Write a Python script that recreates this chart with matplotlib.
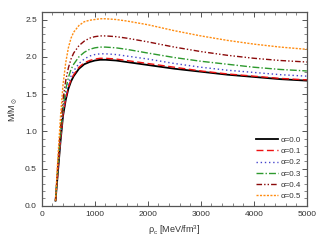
import matplotlib
matplotlib.use("Agg")
import matplotlib.pyplot as plt
from matplotlib.ticker import MultipleLocator, FormatStrFormatter

plt.rcParams["font.family"] = ["Liberation Sans", "DejaVu Sans"]
plt.rcParams["mathtext.default"] = "regular"

rho = [258, 300, 350, 400, 450, 500, 550, 600, 700, 800, 900, 1000, 1100, 1200,
       1400, 1600, 2000, 2500, 3000, 3500, 4000, 4500, 5000]

m_a00 = [0.07, 0.43, 0.85, 1.21, 1.42, 1.57, 1.67, 1.74, 1.84, 1.90, 1.93, 1.95, 1.96, 1.96,
         1.95, 1.93, 1.89, 1.84, 1.80, 1.76, 1.73, 1.70, 1.68]
m_a01 = [0.07, 0.44, 0.87, 1.23, 1.44, 1.59, 1.69, 1.76, 1.86, 1.92, 1.95, 1.97, 1.98, 1.98,
         1.97, 1.95, 1.91, 1.86, 1.81, 1.77, 1.74, 1.71, 1.69]
m_a02 = [0.07, 0.46, 0.90, 1.27, 1.49, 1.64, 1.74, 1.81, 1.91, 1.97, 2.01, 2.03, 2.04, 2.04,
         2.03, 2.01, 1.97, 1.91, 1.86, 1.82, 1.79, 1.76, 1.74]
m_a03 = [0.07, 0.49, 0.95, 1.33, 1.56, 1.72, 1.83, 1.90, 2.00, 2.06, 2.10, 2.12, 2.13, 2.13,
         2.12, 2.10, 2.05, 1.99, 1.94, 1.90, 1.86, 1.83, 1.81]
m_a04 = [0.07, 0.54, 1.03, 1.43, 1.68, 1.85, 1.97, 2.05, 2.15, 2.21, 2.25, 2.27, 2.28, 2.28,
         2.27, 2.25, 2.20, 2.13, 2.07, 2.02, 1.98, 1.95, 1.93]
m_a05 = [0.07, 0.62, 1.18, 1.63, 1.92, 2.12, 2.25, 2.33, 2.42, 2.47, 2.49, 2.50, 2.51, 2.51,
         2.50, 2.48, 2.43, 2.35, 2.28, 2.22, 2.17, 2.13, 2.10]

labels = ["α=0.0", "α=0.1", "α=0.2", "α=0.3", "α=0.4", "α=0.5"]
series = [m_a00, m_a01, m_a02, m_a03, m_a04, m_a05]
colors = ["black", "#ee1111", "#4444cc", "#2e9a2e", "#8b0a0a", "#ff8c10"]
styles = ["-", (0, (5, 2.5)), (0, (1, 2)), (0, (5, 1.5, 1, 1.5)),
          (0, (4, 1.5, 1, 1.5, 1, 1.5)), (0, (1.5, 1))]
widths = [1.3, 1.0, 1.0, 1.0, 1.0, 1.0]

fig = plt.figure(figsize=(3.22, 2.46), dpi=100)
ax = fig.add_axes([0.130, 0.163, 0.823, 0.788])

for y, lab, c, ls, lw in zip(series, labels, colors, styles, widths):
    ax.plot(rho, y, color=c, linestyle=ls, linewidth=lw, label=lab)

ax.set_xlim(0, 5000)
ax.set_ylim(0, 2.6)
ax.xaxis.set_major_locator(MultipleLocator(1000))
ax.xaxis.set_minor_locator(MultipleLocator(200))
ax.yaxis.set_major_locator(MultipleLocator(0.5))
ax.yaxis.set_minor_locator(MultipleLocator(0.1))
ax.yaxis.set_major_formatter(FormatStrFormatter("%.1f"))

for s in ax.spines.values():
    s.set_color("#555555")
    s.set_linewidth(0.9)
ax.tick_params(which="both", direction="in", top=True, right=True,
               colors="#555555", labelcolor="#333333", labelsize=6)
ax.tick_params(which="major", length=3.5, width=0.7)
ax.tick_params(which="minor", length=2, width=0.5)

ax.set_xlabel(r"ρ$_c$ [MeV/fm$^3$]", fontsize=6.5, color="#333333", labelpad=4)
ax.set_ylabel(r"M/M$_\odot$", fontsize=6.5, color="#333333", labelpad=4)

leg = ax.legend(loc="lower right", fontsize=5.8, frameon=False, handlelength=2.8,
                handletextpad=0.3, labelspacing=0.45, borderaxespad=0.3)
for t in leg.get_texts():
    t.set_color("#333333")

fig.savefig("out.png", dpi=100)
